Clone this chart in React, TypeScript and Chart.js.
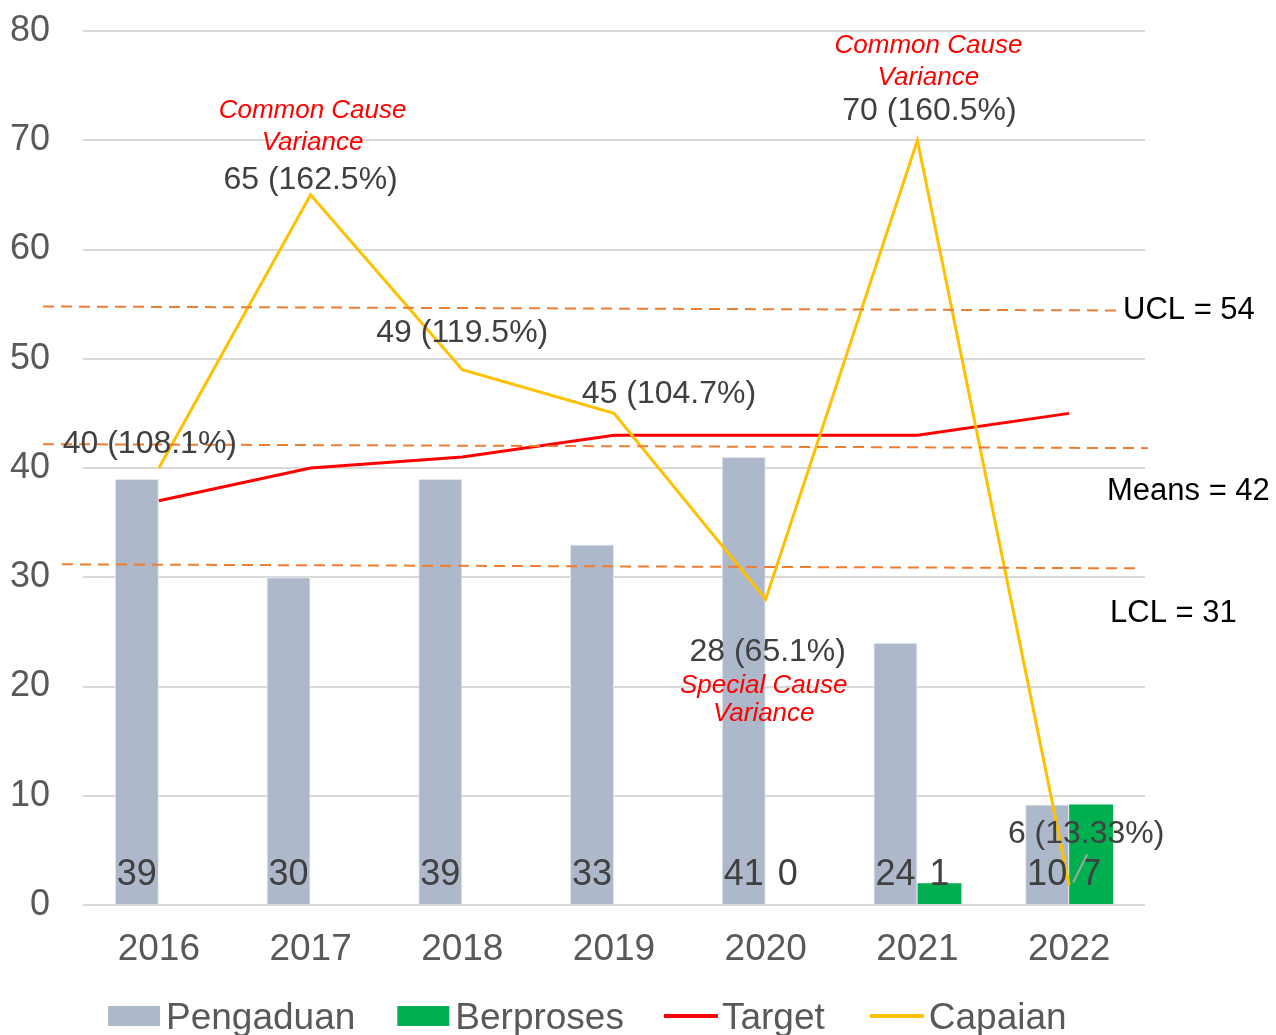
import React, { useEffect, useRef } from "react";
import { Chart, registerables } from "chart.js";

Chart.register(...registerables);

// ---------- data ----------
const categories = ["2016", "2017", "2018", "2019", "2020", "2021", "2022"];
const pengaduan = [39, 30, 39, 33, 41, 24, 9.2];
const berproses = [0, 0, 0, 0, 0, 2, 9.2];
const pengaduanLabels = ["39", "30", "39", "33", "41", "24", "10"];
const berprosesLabels = ["", "", "", "", "0", "1", "7"];
const target = [37, 40, 41, 43, 43, 43, 45];
const capaian = [40, 65, 49, 45, 28, 70, 1.8];
const capaianLabels = [
  "40 (108.1%)",
  "65 (162.5%)",
  "49 (119.5%)",
  "45 (104.7%)",
  "28 (65.1%)",
  "70 (160.5%)",
  "6 (13.33%)",
];
const controlNames = ["UCL = 54", "Means = 42", "LCL = 31"];
const controlLevels = [54.6, 42, 31];
const noteIndex = [1, 5, 4];
const noteLines = [
  ["Common Cause", "Variance"],
  ["Common Cause", "Variance"],
  ["Special Cause", "Variance"],
];
const yMin = 0;
const yMax = 80;
const yStep = 10;

// ---------- layout / style ----------
const FONT = "'Liberation Sans', Arial, sans-serif";
const capaianOffsets: [number, number][] = [
  [-9, -27],
  [0, -17],
  [0, -39],
  [55, -22],
  [2, 50],
  [12, -32],
  [17, -54],
];
const noteOffsets: [number, number, number][] = [
  [2, -86, -54],
  [11, -97, -65],
  [-2, 84, 112],
];
// [startDx from left, endDx from right, labelDx from right, labelDy]
const controlLayout: [number, number, number, number][] = [
  [-40, -25, -22, 0],
  [-40, 3, -38, 43],
  [-21, -5, -35, 45],
];
const legendGaps = [42, 40, 45];
const legendTextGap = [6, 6, 4, 5];

const overlayPlugin = {
  id: "overlay",
  afterDatasetsDraw(chart: any) {
    const ctx: CanvasRenderingContext2D = chart.ctx;
    const area = chart.chartArea;
    const y = chart.scales.y;
    ctx.save();

    // control lines
    ctx.strokeStyle = "#ed7d31";
    ctx.lineWidth = 2;
    ctx.setLineDash([11, 7]);
    controlLevels.forEach((lv, i) => {
      const py = y.getPixelForValue(lv);
      const [s, e] = controlLayout[i];
      ctx.beginPath();
      ctx.moveTo(area.left + s, py - 2);
      ctx.lineTo(area.right + e, py + 2);
      ctx.stroke();
    });
    ctx.setLineDash([]);

    // bar labels
    const base = y.getPixelForValue(0);
    ctx.font = `36px ${FONT}`;
    ctx.fillStyle = "#404040";
    ctx.textAlign = "center";
    ctx.textBaseline = "alphabetic";
    const m0 = chart.getDatasetMeta(0);
    const m1 = chart.getDatasetMeta(1);
    pengaduanLabels.forEach((t, i) => {
      if (t) ctx.fillText(t, m0.data[i].x, base - 20);
    });
    berprosesLabels.forEach((t, i) => {
      if (t) ctx.fillText(t, m1.data[i].x, base - 20);
    });

    // capaian labels
    const m3 = chart.getDatasetMeta(3);
    ctx.font = `32px ${FONT}`;
    capaianLabels.forEach((t, i) => {
      const p = m3.data[i];
      const [dx, dy] = capaianOffsets[i];
      ctx.fillText(t, p.x + dx, p.y + dy + 11.5);
    });

    // leader line 2022
    const last = m3.data[m3.data.length - 1];
    ctx.strokeStyle = "#a6a6a6";
    ctx.lineWidth = 2;
    ctx.beginPath();
    ctx.moveTo(last.x + 4, last.y - 3);
    ctx.lineTo(last.x + 18, last.y - 31);
    ctx.stroke();

    // notes
    ctx.font = `italic 26px ${FONT}`;
    ctx.fillStyle = "#ff0000";
    noteIndex.forEach((idx, k) => {
      const p = m3.data[idx];
      const [dx, dy1, dy2] = noteOffsets[k];
      ctx.fillText(noteLines[k][0], p.x + dx, p.y + dy1 + 9.5);
      ctx.fillText(noteLines[k][1], p.x + dx, p.y + dy2 + 9.5);
    });

    // control labels
    ctx.font = `31px ${FONT}`;
    ctx.fillStyle = "#000000";
    ctx.textAlign = "left";
    controlNames.forEach((t, i) => {
      const py = y.getPixelForValue(controlLevels[i]);
      const [, , lx, ly] = controlLayout[i];
      ctx.fillText(t, area.right + lx, py + ly + 11);
    });

    // legend
    ctx.font = `37px ${FONT}`;
    const ly = 1016;
    let x = area.left + 25;
    const ds = chart.data.datasets;
    const legendOrder = [0, 1, 2, 3];
    legendOrder.forEach((di, k) => {
      const d = ds[di];
      if (d.type === "line") {
        ctx.strokeStyle = d.borderColor;
        ctx.lineWidth = 4;
        ctx.beginPath();
        ctx.moveTo(x, ly);
        ctx.lineTo(x + 54, ly);
        ctx.stroke();
        x += 54;
      } else {
        ctx.fillStyle = d.backgroundColor;
        ctx.fillRect(x, ly - 10, 52, 20);
        x += 52;
      }
      x += legendTextGap[k];
      ctx.fillStyle = "#595959";
      ctx.fillText(d.label, x, ly + 13);
      x += ctx.measureText(d.label).width + (legendGaps[k] || 0);
    });

    ctx.restore();
  },
};

export default function App() {
  const ref = useRef<HTMLCanvasElement>(null);
  useEffect(() => {
    document.body.style.margin = "0";
    const chart = new Chart(ref.current as HTMLCanvasElement, {
      type: "bar",
      data: {
        labels: categories,
        datasets: [
          {
            type: "bar",
            label: "Pengaduan",
            data: pengaduan,
            backgroundColor: "#adb9ca",
            borderColor: "#e4e8ee",
            borderWidth: 1,
            order: 3,
            categoryPercentage: 0.58,
            barPercentage: 1,
          },
          {
            type: "bar",
            label: "Berproses",
            data: berproses,
            backgroundColor: "#00b050",
            order: 3,
            categoryPercentage: 0.58,
            barPercentage: 1,
          },
          {
            type: "line",
            label: "Target",
            data: target,
            borderColor: "#ff0000",
            backgroundColor: "#ff0000",
            borderWidth: 3,
            pointRadius: 0,
            tension: 0,
            order: 2,
          },
          {
            type: "line",
            label: "Capaian",
            data: capaian,
            borderColor: "#ffc000",
            backgroundColor: "#ffc000",
            borderWidth: 3,
            pointRadius: 0,
            tension: 0,
            order: 1,
          },
        ] as any,
      },
      options: {
        responsive: false,
        animation: false,
        layout: { padding: { top: 31, right: 131, left: 0, bottom: 0 } },
        plugins: {
          legend: { display: false },
          tooltip: { enabled: false },
        },
        scales: {
          x: {
            grid: { display: false },
            border: { display: false },
            ticks: {
              font: { family: FONT, size: 37 },
              color: "#595959",
              padding: 15,
            },
            afterFit(scale: any) {
              scale.height = 130;
              scale.paddingLeft = 0;
              scale.paddingRight = 0;
            },
          },
          y: {
            min: yMin,
            max: yMax,
            grid: { color: "#d9d9d9", lineWidth: 2, drawTicks: false },
            border: { display: false },
            ticks: {
              stepSize: yStep,
              font: { family: FONT, size: 36 },
              color: "#595959",
              padding: 33,
            },
            afterFit(scale: any) {
              scale.width = 83;
              scale.paddingTop = 0;
              scale.paddingBottom = 0;
            },
          },
        },
      },
      plugins: [overlayPlugin],
    });
    return () => chart.destroy();
  }, []);
  return (
    <div style={{ width: 1276, height: 1035 }}>
      <canvas ref={ref} width={1276} height={1035} style={{ width: 1276, height: 1035 }} />
    </div>
  );
}
